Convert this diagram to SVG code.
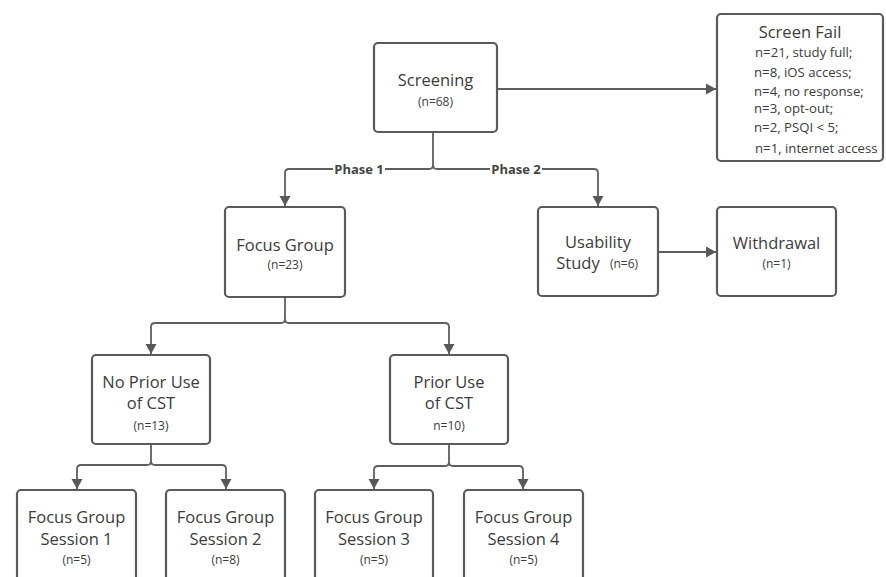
<svg xmlns="http://www.w3.org/2000/svg" width="886" height="577" viewBox="0 0 886 577">
<defs>
<marker id="ah" markerWidth="10" markerHeight="12" refX="10" refY="6" orient="auto" markerUnits="userSpaceOnUse" viewBox="0 0 10 12">
<path d="M0,0.5 L10,6 L0,11.5 Z" fill="#595959"/>
</marker>
</defs>
<style>
.box{fill:#fff;stroke:#5a5a5a;stroke-width:2.2}
.t{font-family:"Open Sans","Liberation Sans",sans-serif;font-size:16.5px;fill:#3c3c3c;text-anchor:middle}
.n{font-family:"Open Sans","Liberation Sans",sans-serif;font-size:12px;fill:#3c3c3c;text-anchor:middle}
.l{font-family:"Open Sans","Liberation Sans",sans-serif;font-size:13.2px;fill:#3c3c3c}
.ph{font-family:"Open Sans","Liberation Sans",sans-serif;font-size:13px;font-weight:bold;fill:#444;text-anchor:middle}
.c{fill:none;stroke:#5f5f5f;stroke-width:1.8}
</style>
<rect width="886" height="577" fill="#fff"/>
<g id="connectors">
<path class="c" d="M497,89 H716" marker-end="url(#ah)"/>
<path class="c" d="M433,132 V165 Q433,169 429,169 H289 Q285,169 285,173 V206" marker-end="url(#ah)"/>
<path class="c" d="M433,165 Q433,169 437,169 H594 Q598,169 598,173 V206" marker-end="url(#ah)"/>
<rect x="333" y="161" width="52" height="16" fill="#fff"/>
<rect x="490" y="161" width="52" height="16" fill="#fff"/>
<text class="ph" x="359" y="174">Phase 1</text>
<text class="ph" x="516" y="174">Phase 2</text>
<path class="c" d="M658,252 H716" marker-end="url(#ah)"/>
<path class="c" d="M285,297 V319 Q285,323 281,323 H155 Q151,323 151,327 V354" marker-end="url(#ah)"/>
<path class="c" d="M285,319 Q285,323 289,323 H445 Q449,323 449,327 V354" marker-end="url(#ah)"/>
<path class="c" d="M151,444 V461 Q151,465 147,465 H81 Q77,465 77,469 V489" marker-end="url(#ah)"/>
<path class="c" d="M151,461 Q151,465 155,465 H222 Q226,465 226,469 V489" marker-end="url(#ah)"/>
<path class="c" d="M449,444 V462 Q449,466 445,466 H378 Q374,466 374,470 V489" marker-end="url(#ah)"/>
<path class="c" d="M449,462 Q449,466 453,466 H519 Q523,466 523,470 V489" marker-end="url(#ah)"/>
</g>
<g id="screening">
<rect class="box" x="374" y="43" width="123" height="89" rx="4"/>
<text class="t" x="435.5" y="86">Screening</text>
<text class="n" x="435.5" y="106">(n=68)</text>
</g>
<g id="screenfail">
<rect class="box" x="717" y="14" width="166" height="147" rx="4"/>
<text class="t" x="800" y="38">Screen Fail</text>
<text class="l" x="755" y="57">n=21, study full;</text>
<text class="l" x="754" y="77">n=8, iOS access;</text>
<text class="l" x="754" y="96">n=4, no response;</text>
<text class="l" x="754" y="113">n=3, opt-out;</text>
<text class="l" x="754" y="132">n=2, PSQI &lt; 5;</text>
<text class="l" x="755" y="153">n=1, internet access</text>
</g>
<g id="focusgroup">
<rect class="box" x="225" y="207" width="120" height="90" rx="4"/>
<text class="t" x="285" y="251">Focus Group</text>
<text class="n" x="285" y="269">(n=23)</text>
</g>
<g id="usability">
<rect class="box" x="538" y="207" width="120" height="89" rx="4"/>
<text class="t" x="598" y="248">Usability</text>
<text class="t" x="578" y="269">Study</text>
<text class="n" x="624" y="268">(n=6)</text>
</g>
<g id="withdrawal">
<rect class="box" x="717" y="207" width="119" height="89" rx="4"/>
<text class="t" x="776.5" y="249">Withdrawal</text>
<text class="n" x="776.5" y="268">(n=1)</text>
</g>
<g id="noprior">
<rect class="box" x="92" y="355" width="118" height="89" rx="4"/>
<text class="t" x="151" y="388">No Prior Use</text>
<text class="t" x="151" y="409">of CST</text>
<text class="n" x="151" y="430">(n=13)</text>
</g>
<g id="prior">
<rect class="box" x="390" y="355" width="118" height="89" rx="4"/>
<text class="t" x="449" y="388">Prior Use</text>
<text class="t" x="449" y="409">of CST</text>
<text class="n" x="449" y="430">n=10)</text>
</g>
<g id="fg1">
<rect class="box" x="17" y="490" width="119" height="95" rx="4"/>
<text class="t" x="76.5" y="523">Focus Group</text>
<text class="t" x="76.5" y="545">Session 1</text>
<text class="n" x="76.5" y="564">(n=5)</text>
</g>
<g id="fg2">
<rect class="box" x="166" y="490" width="119" height="95" rx="4"/>
<text class="t" x="225.5" y="523">Focus Group</text>
<text class="t" x="225.5" y="545">Session 2</text>
<text class="n" x="225.5" y="564">(n=8)</text>
</g>
<g id="fg3">
<rect class="box" x="315" y="490" width="118" height="95" rx="4"/>
<text class="t" x="374" y="523">Focus Group</text>
<text class="t" x="374" y="545">Session 3</text>
<text class="n" x="374" y="564">(n=5)</text>
</g>
<g id="fg4">
<rect class="box" x="464" y="490" width="119" height="95" rx="4"/>
<text class="t" x="523.5" y="523">Focus Group</text>
<text class="t" x="523.5" y="545">Session 4</text>
<text class="n" x="523.5" y="564">(n=5)</text>
</g>
</svg>
